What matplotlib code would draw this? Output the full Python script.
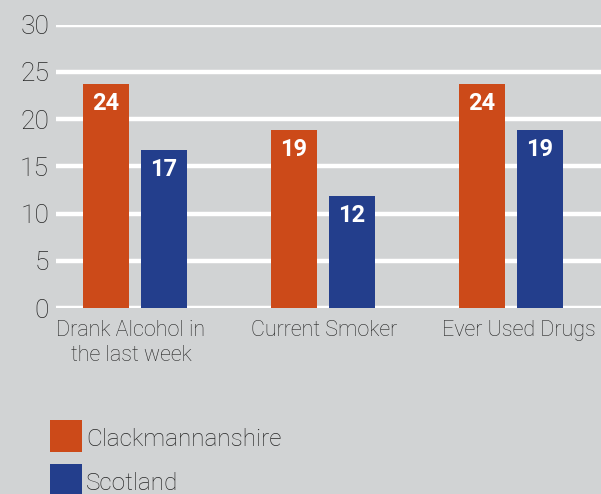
import matplotlib
matplotlib.use("Agg")
import matplotlib.pyplot as plt
from matplotlib.patches import Rectangle
from matplotlib.transforms import ScaledTranslation
import numpy as np

categories = ["Drank Alcohol in\nthe last week", "Current Smoker", "Ever Used Drugs"]
series_names = ["Clackmannanshire", "Scotland"]
clackmannanshire = [23.7, 18.8, 23.7]
scotland = [16.7, 11.8, 18.8]
y_ticks = [0, 5, 10, 15, 20, 25, 30]

BG = "#d1d3d4"
ORANGE = "#cc4a19"
BLUE = "#233e8c"
TEXT = "#262626"

plt.rcParams["font.family"] = ["Roboto", "DejaVu Sans"]

W, H = 601, 494
fig = plt.figure(figsize=(W / 100, H / 100), dpi=100, facecolor=BG)
ax = fig.add_axes([56 / W, 186 / H, 545 / W, 283.5 / H], facecolor=BG)

x = np.arange(len(categories))
width = 0.245
offset = 0.154

bars1 = ax.bar(x - offset, clackmannanshire, width, color=ORANGE, zorder=3)
bars2 = ax.bar(x + offset, scotland, width, color=BLUE, zorder=3)

for bars, vals in ((bars1, clackmannanshire), (bars2, scotland)):
    for b, v in zip(bars, vals):
        ax.annotate(f"{v:.0f}", (b.get_x() + b.get_width() / 2, v),
                    xytext=(0, -18.5), textcoords="offset points",
                    ha="center", va="baseline", color="white",
                    fontsize=17, fontweight="bold", zorder=4)

ax.set_xlim(-0.42, 2.48)
ax.set_ylim(0, 30)
ax.set_yticks(y_ticks)
ax.set_yticklabels([str(t) for t in y_ticks], fontsize=19, fontweight="light", color=TEXT)
ax.set_xticks(x)
ax.set_xticklabels(categories, fontsize=15.5, fontweight="light", color=TEXT, linespacing=1.25)
ax.tick_params(axis="y", length=0, pad=5)
ax.tick_params(axis="x", length=0, pad=8.5)

# small horizontal nudges of the category labels (pixels)
for lbl, dx in zip(ax.get_xticklabels(), [-4, 1, 8]):
    lbl.set_transform(lbl.get_transform() + ScaledTranslation(dx / 100, 0, fig.dpi_scale_trans))

ax.yaxis.grid(True, color="white", linewidth=3.2, zorder=0)
ax.set_axisbelow(True)
for s in ax.spines.values():
    s.set_visible(False)

# Legend: colour squares with labels below the plot
legend_colors = [ORANGE, BLUE]
for i, (name, col) in enumerate(zip(series_names, legend_colors)):
    top = 420 + 44 * i
    fig.add_artist(Rectangle((50 / W, 1 - (top + 32) / H), 32 / W, 32 / H,
                             transform=fig.transFigure, facecolor=col,
                             edgecolor="none"))
    fig.text(86 / W, 1 - (top + 26) / H, name, fontsize=17.5, fontweight="light",
             color=TEXT, ha="left", va="baseline")

fig.savefig("out.png", dpi=100, facecolor=BG)
